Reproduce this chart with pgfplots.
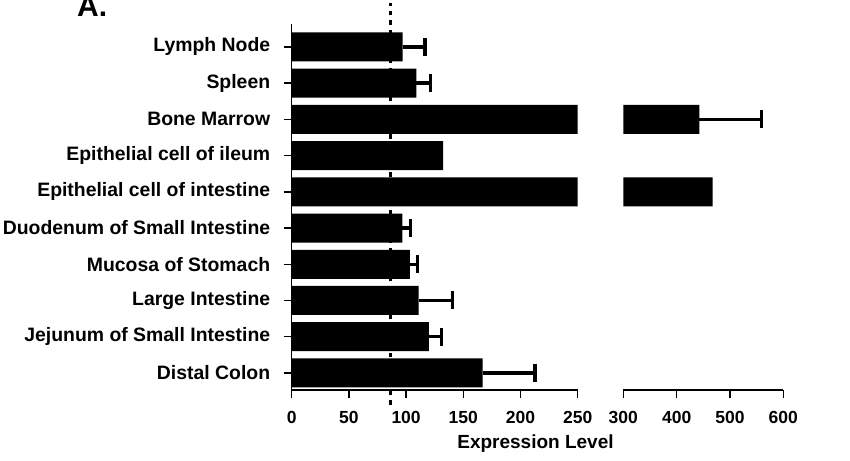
\documentclass[border=0pt]{standalone}
\usepackage{fontspec}
\setmainfont{Liberation Sans}
\usepackage{pgfplots}
\pgfplotsset{compat=1.18}

% rows: index from bottom (0 = Distal Colon)
\pgfplotstableread{
idx val
0 167.0
1 120.0
2 111.0
3 103.4
4 96.7
5 467.6
6 132.3
7 442.5
8 109.0
9 97.0
}\bars

% only the rows that carry an error bar
\pgfplotstableread{
idx val err
0 167.0 45.7
1 120.0 11.0
2 111.0 29.7
3 103.4 6.4
4 96.7 7.3
7 442.5 117.0
8 109.0 12.5
9 97.0 19.5
}\errs

\pgfplotsset{
  brk/.style={
    scale only axis,
    height=366pt,
    ymin=-0.47, ymax=9.63,
    bar width=29pt,
    axis x line*=bottom,
    x axis line style={-, line width=1.3pt},
    tick align=outside,
    major tick length=8pt,
    tick style={line width=1.5pt, black},
    /pgf/number format/assume math mode=true,
    xticklabel style={font=\fontsize{17.5}{20}\selectfont\bfseries, yshift=-10pt},
  },
  barplot/.style={xbar, bar shift=0pt, fill=black, draw=none},
  errplot/.style={draw=none, forget plot,
    error bars/.cd, x dir=plus, x explicit,
    error bar style={draw=black, line width=3.5pt},
    error mark options={draw=black, rotate=90, line width=3.5pt, mark size=9pt}},
}

\begin{document}
\begin{tikzpicture}
\begin{axis}[brk,
  at={(0pt,0pt)}, anchor=south west,
  width=286pt,
  xmin=0, xmax=250,
  xtick={0,50,...,250},
  axis y line*=left,
  y axis line style={-, line width=1.3pt},
  ytick={0,...,9},
  yticklabels={Distal Colon, Jejunum of Small Intestine, Large Intestine,
    Mucosa of Stomach, Duodenum of Small Intestine, Epithelial cell of intestine,
    Epithelial cell of ileum, Bone Marrow, Spleen, Lymph Node},
  yticklabel style={font=\fontsize{19.4}{22}\selectfont\bfseries, xshift=-10pt},
]
\addplot[barplot] table[x=val, y=idx] {\bars};
\addplot[errplot] table[x=val, y=idx, x error=err] {\errs};
\end{axis}

\begin{axis}[brk,
  at={(331.6pt,0pt)}, anchor=south west,
  width=160pt,
  xmin=300, xmax=600,
  xtick={300,400,500,600},
  axis y line=none,
  ytick=\empty,
]
\addplot[barplot, restrict x to domain=300:700] table[x=val, y=idx] {\bars};
\addplot[errplot] table[x=val, y=idx, x error=err] {\errs};
\end{axis}

% dashed reference line, drawn in an unclipped copy of the left axis
\begin{axis}[scale only axis, at={(0pt,0pt)}, anchor=south west,
  width=286pt, height=366pt, xmin=0, xmax=250, ymin=-0.47, ymax=9.63,
  hide axis, clip=false]
\addplot[black, line width=3pt, dash pattern=on 4.5pt off 5pt]
  coordinates {(86.5,-0.88) (86.5,10.21)};
\end{axis}

\node[anchor=base, font=\fontsize{19}{22}\selectfont\bfseries] at (243.8pt,-58pt) {Expression Level};
\node[anchor=base west, inner sep=0pt, font=\fontsize{30}{34}\selectfont\bfseries] at (-214.7pt,373pt) {A.};

\pgfresetboundingbox
\path[use as bounding box] (-291.7pt,-70pt) rectangle (558.3pt,390pt);
\end{tikzpicture}
\end{document}
